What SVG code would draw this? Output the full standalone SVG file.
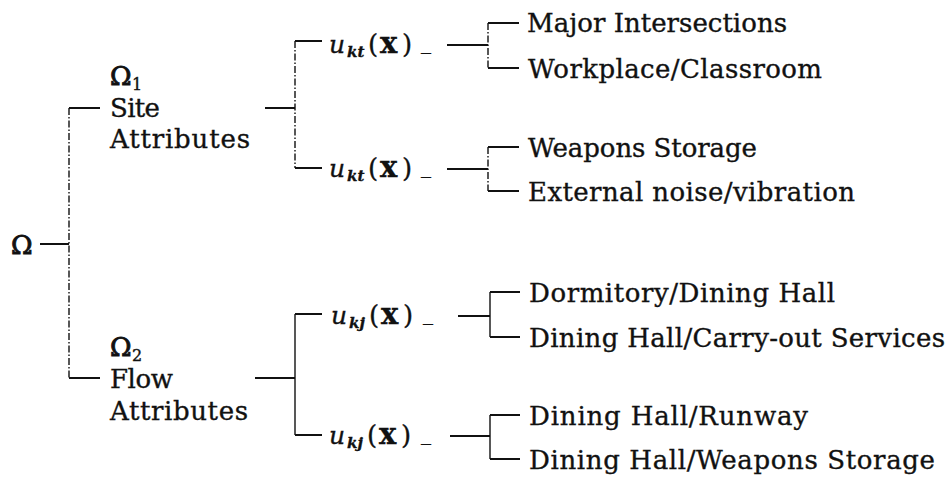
<svg xmlns="http://www.w3.org/2000/svg" width="951" height="481" viewBox="0 0 951 481">
  <style>
    .t { font-family: "DejaVu Serif", "Liberation Serif", serif; font-size: 26px; fill: #111; stroke: #111; stroke-width: 0.35; }
    .sub { font-size: 16px; }
    .ui { font-style: italic; font-size: 25px; }
    .ks { font-style: italic; font-weight: bold; font-size: 15px; }
    .bx { font-weight: bold; font-size: 29px; }
    .us { font-size: 20px; }
    .om { stroke-width: 0.9; }
    .h { stroke: #111; stroke-width: 2; fill: none; }
    .v { stroke: #111; stroke-width: 1.4; fill: none; }
    .vd { stroke: #111; stroke-width: 1.4; fill: none; stroke-dasharray: 7 2 1.5 2; }
  </style>
  <rect width="951" height="481" fill="#fff"/>

  <g id="connectors">
    <!-- root to level-1 bracket -->
    <line class="h" x1="40" y1="244" x2="69" y2="244"/>
    <line class="vd" x1="69" y1="108" x2="69" y2="378"/>
    <line class="h" x1="69" y1="108" x2="100" y2="108"/>
    <line class="h" x1="69" y1="378" x2="100" y2="378"/>

    <!-- site attributes to utility bracket -->
    <line class="h" x1="265" y1="108" x2="295" y2="108"/>
    <line class="vd" x1="295" y1="41" x2="295" y2="168"/>
    <line class="h" x1="295" y1="41" x2="322" y2="41"/>
    <line class="h" x1="295" y1="168" x2="322" y2="168"/>

    <!-- flow attributes to utility bracket -->
    <line class="h" x1="255" y1="378" x2="295" y2="378"/>
    <line class="v" x1="295" y1="314" x2="295" y2="435"/>
    <line class="h" x1="295" y1="314" x2="322" y2="314"/>
    <line class="h" x1="295" y1="435" x2="322" y2="435"/>

    <!-- utility nodes to leaf brackets -->
    <line class="h" x1="447" y1="45" x2="488" y2="45"/>
    <line class="vd" x1="488" y1="23" x2="488" y2="68"/>
    <line class="h" x1="488" y1="23" x2="519" y2="23"/>
    <line class="h" x1="488" y1="68" x2="519" y2="68"/>

    <line class="h" x1="447" y1="169" x2="488" y2="169"/>
    <line class="vd" x1="488" y1="147" x2="488" y2="191"/>
    <line class="h" x1="488" y1="147" x2="519" y2="147"/>
    <line class="h" x1="488" y1="191" x2="519" y2="191"/>

    <line class="h" x1="458" y1="316" x2="490" y2="316"/>
    <line class="v" x1="490" y1="292" x2="490" y2="337"/>
    <line class="h" x1="490" y1="292" x2="520" y2="292"/>
    <line class="h" x1="490" y1="337" x2="520" y2="337"/>

    <line class="h" x1="450" y1="436" x2="490" y2="436"/>
    <line class="v" x1="490" y1="415" x2="490" y2="459"/>
    <line class="h" x1="490" y1="415" x2="520" y2="415"/>
    <line class="h" x1="490" y1="459" x2="520" y2="459"/>
  </g>

  <g id="root">
    <text class="t om" x="11" y="254">Ω</text>
  </g>

  <g id="site-attributes">
    <text class="t om" x="110" y="85">Ω</text>
    <text class="t sub" x="132" y="90">1</text>
    <text class="t" x="110" y="117" textLength="50">Site</text>
    <text class="t" x="110" y="148" textLength="140">Attributes</text>
  </g>

  <g id="flow-attributes">
    <text class="t om" x="110" y="356">Ω</text>
    <text class="t sub" x="132" y="361">2</text>
    <text class="t" x="110" y="388" textLength="63">Flow</text>
    <text class="t" x="110" y="420" textLength="138">Attributes</text>
  </g>

  <g id="u-kt-1">
    <text class="t"><tspan class="ui" x="329" y="53">u</tspan><tspan class="ks" x="347" y="57">kt</tspan><tspan x="368" y="53">(</tspan><tspan class="bx" x="380" y="53">x</tspan><tspan x="402" y="53">)</tspan><tspan class="us" x="421" y="49">_</tspan></text>
  </g>
  <g id="u-kt-2">
    <text class="t"><tspan class="ui" x="329" y="177">u</tspan><tspan class="ks" x="347" y="181">kt</tspan><tspan x="368" y="177">(</tspan><tspan class="bx" x="380" y="177">x</tspan><tspan x="402" y="177">)</tspan><tspan class="us" x="421" y="173">_</tspan></text>
  </g>
  <g id="u-kj-1">
    <text class="t"><tspan class="ui" x="331" y="324">u</tspan><tspan class="ks" x="349" y="328">kj</tspan><tspan x="369" y="324">(</tspan><tspan class="bx" x="381" y="324">x</tspan><tspan x="403" y="324">)</tspan><tspan class="us" x="423" y="320">_</tspan></text>
  </g>
  <g id="u-kj-2">
    <text class="t"><tspan class="ui" x="329" y="444">u</tspan><tspan class="ks" x="347" y="448">kj</tspan><tspan x="367" y="444">(</tspan><tspan class="bx" x="379" y="444">x</tspan><tspan x="401" y="444">)</tspan><tspan class="us" x="421" y="440">_</tspan></text>
  </g>

  <g id="leaf-major-intersections"><text class="t" x="527" y="32" textLength="260">Major Intersections</text></g>
  <g id="leaf-workplace-classroom"><text class="t" x="528" y="78" textLength="294">Workplace/Classroom</text></g>
  <g id="leaf-weapons-storage"><text class="t" x="528" y="157" textLength="229">Weapons Storage</text></g>
  <g id="leaf-external-noise"><text class="t" x="528" y="201" textLength="327">External noise/vibration</text></g>
  <g id="leaf-dormitory-dining"><text class="t" x="529" y="302" textLength="306">Dormitory/Dining Hall</text></g>
  <g id="leaf-dining-carryout"><text class="t" x="529" y="347" textLength="416">Dining Hall/Carry-out Services</text></g>
  <g id="leaf-dining-runway"><text class="t" x="529" y="425" textLength="279">Dining Hall/Runway</text></g>
  <g id="leaf-dining-weapons"><text class="t" x="529" y="469" textLength="406">Dining Hall/Weapons Storage</text></g>
</svg>
